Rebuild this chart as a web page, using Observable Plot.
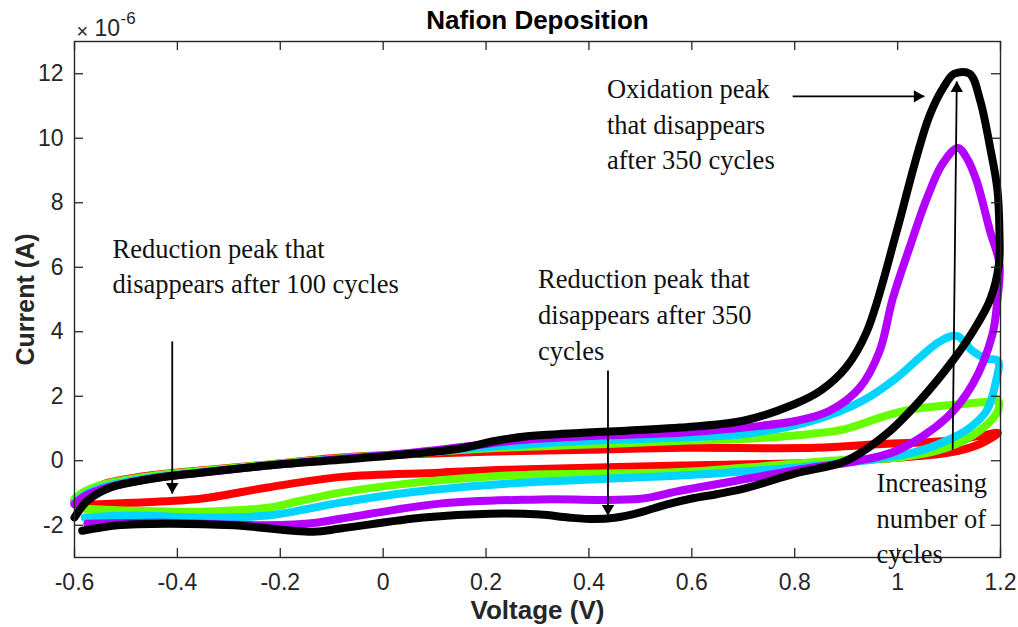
<!DOCTYPE html>
<html><head><meta charset="utf-8">
<script src="https://cdn.jsdelivr.net/npm/d3@7"></script>
<script src="https://cdn.jsdelivr.net/npm/@observablehq/plot@0.6"></script>
<style>body{margin:0;background:#fff} svg{display:block}</style>
</head><body><div id="chart"></div>
<script>
// Voltage (V) and current (x10^-6 A), loop order
const redV = [-0.60,-0.58,-0.54,-0.45,-0.355,-0.225,-0.08,0.05,0.2,0.4,0.58,0.84,0.97,1.10,1.16,1.195,1.16,1.10,0.97,0.84,0.58,0.24,0.11,-0.08,-0.225,-0.355,-0.485,-0.58];
const redI = [-1.25,-1.0,-0.71,-0.45,-0.3,-0.12,0.1,0.2,0.28,0.34,0.4,0.4,0.52,0.62,0.77,0.86,0.52,0.25,0.06,-0.06,-0.15,-0.28,-0.37,-0.5,-0.83,-1.18,-1.3,-1.37];

const greenV = [-0.60,-0.58,-0.54,-0.45,-0.355,-0.225,-0.08,0.05,0.2,0.4,0.58,0.707,0.835,0.9,0.978,1.03,1.126,1.17,1.195,1.195,1.159,1.095,0.998,0.9,0.707,0.577,0.24,0.046,-0.083,-0.16,-0.225,-0.355,-0.485,-0.58];
const greenI = [-1.18,-0.95,-0.72,-0.47,-0.32,-0.12,0.08,0.22,0.38,0.5,0.62,0.68,0.84,0.99,1.4,1.6,1.76,1.82,1.86,1.55,0.93,0.4,0.09,0.03,-0.21,-0.35,-0.46,-0.71,-0.99,-1.24,-1.46,-1.58,-1.55,-1.49];

const cyanV = [-0.60,-0.58,-0.54,-0.45,-0.355,-0.225,-0.08,0.05,0.2,0.4,0.58,0.707,0.835,0.932,0.998,1.043,1.082,1.115,1.146,1.173,1.195,1.19,1.173,1.14,1.095,1.03,0.932,0.804,0.64,0.577,0.24,0.046,-0.083,-0.225,-0.355,-0.485,-0.58];
const cyanI = [-1.3,-1.05,-0.8,-0.52,-0.36,-0.15,0.06,0.22,0.42,0.62,0.72,0.84,1.24,1.86,2.57,3.2,3.7,3.87,3.4,3.16,3.1,2.38,1.55,1.02,0.62,0.25,0.0,-0.21,-0.4,-0.46,-0.71,-0.99,-1.3,-1.7,-1.76,-1.7,-1.76];

const purpleV = [-0.60,-0.58,-0.54,-0.45,-0.355,-0.225,-0.08,0.05,0.2,0.25,0.4,0.577,0.674,0.804,0.868,0.926,0.965,0.99,1.023,1.056,1.087,1.117,1.134,1.153,1.18,1.198,1.194,1.184,1.146,1.095,0.998,0.913,0.835,0.707,0.577,0.5,0.305,0.11,-0.083,-0.13,-0.225,-0.43,-0.575];
const purpleI = [-1.35,-1.1,-0.85,-0.55,-0.37,-0.15,0.06,0.24,0.52,0.62,0.77,0.87,0.99,1.24,1.55,2.26,3.4,5.0,6.6,8.1,9.2,9.7,9.4,8.7,7.1,6.1,5.0,3.9,2.38,1.33,0.31,-0.03,-0.21,-0.56,-0.93,-1.18,-1.2,-1.33,-1.8,-1.92,-2.0,-1.92,-1.95];

const blackV = [-0.60,-0.575,-0.53,-0.45,-0.355,-0.225,-0.083,0.046,0.15,0.22,0.28,0.369,0.577,0.7,0.8,0.85,0.9,0.94,0.998,1.033,1.062,1.09,1.11,1.14,1.16,1.18,1.194,1.198,1.197,1.18,1.146,1.107,1.043,0.979,0.9,0.8,0.707,0.65,0.6,0.55,0.5,0.45,0.41,0.36,0.305,0.208,0.078,-0.083,-0.136,-0.29,-0.42,-0.517,-0.585];
const blackI = [-1.76,-1.24,-0.83,-0.56,-0.37,-0.15,0.03,0.2,0.38,0.62,0.76,0.85,1.03,1.24,1.76,2.17,2.9,4.0,7.1,9.2,10.7,11.6,12.0,12.0,11.2,9.7,8.4,7.0,6.1,5.0,4.0,3.1,1.86,0.84,0.0,-0.4,-0.84,-1.03,-1.17,-1.36,-1.6,-1.77,-1.81,-1.76,-1.67,-1.64,-1.76,-2.1,-2.2,-2.0,-1.95,-2.0,-2.17];

const seriesNames = ["Cycles 1", "Cycles 2", "Cycles 3", "Cycles 4", "Cycles 5"];
const seriesColors = ["#ff0000", "#66ff00", "#00d4ff", "#b300ff", "#000000"];
const seriesV = [redV, greenV, cyanV, purpleV, blackV];
const seriesI = [redI, greenI, cyanI, purpleI, blackI];

const xTicks = [-0.6,-0.4,-0.2,0,0.2,0.4,0.6,0.8,1,1.2];
const yTicks = [-2,0,2,4,6,8,10,12];

// annotations
const annText = ["Reduction peak that\ndisappears after 100 cycles", "Reduction peak that\ndisappears after 350\ncycles", "Oxidation peak\nthat disappears\nafter 350 cycles", "Increasing\nnumber of\ncycles"];
const annV = [-0.526, 0.301, 0.435, 0.959];
const annI = [6.1, 4.6, 10.5, -1.72];

const arrowDir = ["down", "down", "right", "up"];
const arrowV1 = [-0.41, 0.437, 0.796, 1.107];
const arrowI1 = [3.7, 2.8, 11.3, 0.34];
const arrowV2 = [-0.41, 0.437, 1.052, 1.115];
const arrowI2 = [-1.02, -1.7, 11.3, 11.76];

const curveData = [];
seriesNames.forEach((s, k) => seriesV[k].forEach((v, j) => curveData.push({series: s, v, i: seriesI[k][j]})));
const arrows = arrowDir.map((d, k) => ({d, x1: arrowV1[k], y1: arrowI1[k], x2: arrowV2[k], y2: arrowI2[k]}));
const anns = annText.map((t, k) => ({t, x: annV[k], y: annI[k]}));

const W = 1018, H = 627, mL = 74, mR = 18, mT = 41, mB = 70;
const pW = W - mL - mR, pH = H - mT - mB, tick = 9;
const ink = "#262626";
const fmt = d => String(+d.toFixed(1));

const chart = Plot.plot({
  width: W, height: H,
  marginLeft: mL, marginRight: mR, marginTop: mT, marginBottom: mB,
  x: {domain: [-0.6, 1.2]},
  y: {domain: [-3, 13]},
  color: {domain: seriesNames, range: seriesColors},
  style: {fontFamily: "'Liberation Sans', Arial, sans-serif", fontSize: "23px", background: "#fff", color: ink},
  marks: [
    Plot.line(curveData, {x: "v", y: "i", z: "series", stroke: "series", strokeWidth: 8, curve: "catmull-rom", strokeLinejoin: "round", strokeLinecap: "round"}),
    Plot.frame({stroke: ink, strokeWidth: 1.4}),
    Plot.ruleX(xTicks, {x: d => d, insetTop: pH - tick, stroke: ink, strokeWidth: 1.3}),
    Plot.ruleX(xTicks, {x: d => d, insetBottom: pH - tick, stroke: ink, strokeWidth: 1.3}),
    Plot.ruleY(yTicks, {y: d => d, insetRight: pW - tick, stroke: ink, strokeWidth: 1.3}),
    Plot.ruleY(yTicks, {y: d => d, insetLeft: pW - tick, stroke: ink, strokeWidth: 1.3}),
    Plot.axisX({ticks: xTicks, tickSize: 0, tickPadding: 16, fontSize: 23, tickFormat: fmt, label: null, color: ink}),
    Plot.axisY({ticks: yTicks, tickSize: 0, tickPadding: 11, fontSize: 23, tickFormat: fmt, label: null, color: ink}),
    Plot.link(arrows, {x1: "x1", y1: "y1", x2: "x2", y2: "y2", stroke: "#000", strokeWidth: 1.8}),
    Plot.dot(arrows.filter(a => a.d === "down"), {x: "x2", y: "y2", symbol: "triangle", r: 4.6, fill: "#000", stroke: null, rotate: 180, dy: -7}),
    Plot.dot(arrows.filter(a => a.d === "right"), {x: "x2", y: "y2", symbol: "triangle", r: 4.6, fill: "#000", stroke: null, rotate: 90, dx: -7}),
    Plot.dot(arrows.filter(a => a.d === "up"), {x: "x2", y: "y2", symbol: "triangle", r: 4.6, fill: "#000", stroke: null, rotate: 0, dy: 7}),
    Plot.text(anns, {x: "x", y: "y", text: "t", textAnchor: "start", lineAnchor: "middle", lineHeight: 1.35, fontSize: 26.5, fontFamily: "'Liberation Serif', 'Times New Roman', serif", fill: "#111"}),
    Plot.text(["Nafion Deposition"], {frameAnchor: "top", lineAnchor: "middle", dy: -21, fontSize: 26, fontWeight: "bold", fill: "#000"}),
    Plot.text(["Voltage (V)"], {frameAnchor: "bottom", lineAnchor: "middle", dy: 53, fontSize: 26, fontWeight: "bold", fill: ink}),
    Plot.text(["Current (A)"], {frameAnchor: "left", dx: -49, rotate: -90, textAnchor: "middle", lineAnchor: "middle", fontSize: 25, fontWeight: "bold", fill: ink}),
    Plot.text(["\u00d7"], {frameAnchor: "top-left", lineAnchor: "middle", dx: 2, dy: -10, textAnchor: "start", fontSize: 20, fill: ink}),
    Plot.text(["10"], {frameAnchor: "top-left", lineAnchor: "middle", dx: 20, dy: -13, textAnchor: "start", fontSize: 23, fill: ink}),
    Plot.text(["-6"], {frameAnchor: "top-left", lineAnchor: "middle", dx: 46, dy: -23, textAnchor: "start", fontSize: 17, fill: ink})
  ]
});
document.getElementById("chart").appendChild(chart);
</script>
</body></html>
